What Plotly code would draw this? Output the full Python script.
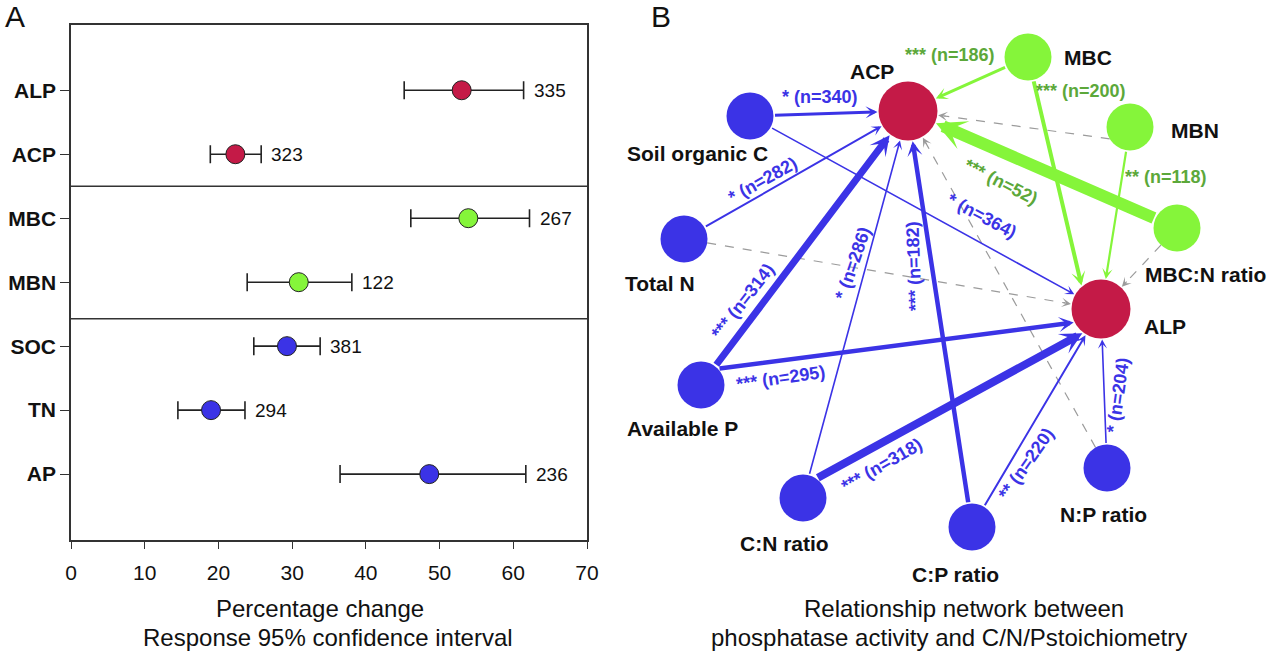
import math
import plotly.graph_objects as go

# ---------------- Panel A data ----------------
vars_a = ["ALP", "ACP", "MBC", "MBN", "SOC", "TN", "AP"]
mean_a = [53.0, 22.3, 53.9, 30.9, 29.3, 19.0, 48.6]
low_a = [45.2, 18.9, 46.1, 23.9, 24.8, 14.5, 36.5]
high_a = [61.4, 25.8, 62.2, 38.1, 33.8, 23.6, 61.7]
n_a = [335, 323, 267, 122, 381, 294, 236]
group_a = ["enz", "enz", "mic", "mic", "soil", "soil", "soil"]
x_ticks_a = [0, 10, 20, 30, 40, 50, 60, 70]

# ---------------- Panel B data ----------------
nodes = ["ACP", "ALP", "MBC", "MBN", "MBC:N ratio", "Soil organic C", "Total N",
         "Available P", "C:N ratio", "C:P ratio", "N:P ratio"]
node_group = ["enz", "enz", "mic", "mic", "mic", "soil", "soil", "soil", "soil", "soil", "soil"]
edge_src = ["Soil organic C", "Soil organic C", "Total N", "Total N", "Available P", "Available P",
            "C:N ratio", "C:N ratio", "C:P ratio", "C:P ratio", "N:P ratio", "N:P ratio",
            "MBC", "MBC", "MBN", "MBN", "MBC:N ratio", "MBC:N ratio"]
edge_tgt = ["ACP", "ALP", "ACP", "ALP", "ACP", "ALP",
            "ACP", "ALP", "ACP", "ALP", "ALP", "ACP",
            "ACP", "ALP", "ACP", "ALP", "ACP", "ALP"]
edge_n = [340, 364, 282, None, 314, 295, 286, 318, 182, 220, 204, None,
          186, 200, None, 118, 52, None]
edge_sig = ["*", "*", "*", "", "***", "***", "*", "***", "***", "**", "*", "",
            "***", "***", "", "**", "***", ""]

# ---------------- styling / layout (not data) ----------------
W, H = 1269, 654
FONT = "Liberation Sans, Arial, sans-serif"
RED = "#C41A47"
GREEN = "#85F53A"
BLUE = "#3B33E6"
GREEN_TXT = "#5CA83A"
GRAY = "#9B9B9B"
col = {"enz": RED, "mic": GREEN, "soil": BLUE}
txtcol = {"enz": BLUE, "mic": GREEN_TXT, "soil": BLUE}

node_pos = {"ACP": (908, 111), "ALP": (1101, 309), "MBC": (1028, 57), "MBN": (1130, 127),
            "MBC:N ratio": (1177, 228), "Soil organic C": (750, 116), "Total N": (684, 239),
            "Available P": (701, 385), "C:N ratio": (803, 498), "C:P ratio": (972, 527),
            "N:P ratio": (1107, 468)}
node_r = {"ACP": 29.5, "ALP": 29.5}
label_pos = {"ACP": (872, 71), "ALP": (1165, 326), "MBC": (1088, 57), "MBN": (1195, 130),
             "MBC:N ratio": (1205, 274), "Soil organic C": (697, 153), "Total N": (660, 283),
             "Available P": (682, 428), "C:N ratio": (784, 543), "C:P ratio": (955, 574),
             "N:P ratio": (1103, 514)}
edge_w = [3, 1.6, 2, 1.2, 7, 4.5, 1.6, 8, 4.5, 2, 1.6, 1.2, 3, 4, 1.2, 2.2, 12, 1.2]
# optional anchor offsets (source, target) for edges not drawn centre-to-centre
edge_off = {5: ((0, -14), (0, 10)), 7: ((0, -12), (0, 14)), 13: ((0, 0), (-14, 0)),
            14: ((-5, 14), (0, 0))}
edge_lab = [(820, 97, 0), (982, 216, 28), (763, 180, -29), None, (743, 301, -52), (781, 378, -8),
            (853, 263, -71), (882, 465, -30), (914, 266, -92), (1026, 464, -55), (1118, 395, -82), None,
            (950, 55, 0), (1081, 91, 0), None, (1166, 177, 0), (1001, 182, 27), None]


def px(x):
    return x / W


def py(y):
    return 1 - y / H


def circle_hits(ax_, ay_, ux, uy, cx, cy, r):
    bx, by = ax_ - cx, ay_ - cy
    b = ux * bx + uy * by
    c = bx * bx + by * by - r * r
    disc = b * b - c
    if disc < 0:
        return None
    s = math.sqrt(disc)
    return (-b - s, -b + s)


fig = go.Figure()

# ---------------- Panel A ----------------
for g in ["enz", "mic", "soil"]:
    idx = [i for i, gg in enumerate(group_a) if gg == g]
    fig.add_trace(go.Scatter(
        x=[mean_a[i] for i in idx], y=[i for i in idx], mode="markers",
        marker=dict(size=19, color=col[g], opacity=1, line=dict(color="#222", width=1)),
        error_x=dict(type="data", symmetric=False,
                     array=[high_a[i] - mean_a[i] for i in idx],
                     arrayminus=[mean_a[i] - low_a[i] for i in idx],
                     color="#222", thickness=1.6, width=9),
        xaxis="x", yaxis="y", showlegend=False, hoverinfo="skip"))

annotations = []
for i, v in enumerate(vars_a):
    annotations.append(dict(x=high_a[i], y=i, xref="x", yref="y", text=str(n_a[i]),
                            showarrow=False, xanchor="left", xshift=8,
                            font=dict(family=FONT, size=19, color="#111")))

shapes = []
for ysep in [1.5, 3.57]:
    shapes.append(dict(type="line", xref="x", yref="y", x0=0, x1=70, y0=ysep, y1=ysep,
                       line=dict(color="#333", width=1.5)))

# ---------------- Panel B ----------------
def rad(nm):
    return node_r.get(nm, 23.5)

for k in range(len(edge_src)):
    s, t = edge_src[k], edge_tgt[k]
    (sox, soy), (tox, toy) = edge_off.get(k, ((0, 0), (0, 0)))
    scx, scy = node_pos[s]
    tcx, tcy = node_pos[t]
    sx, sy = scx + sox, scy + soy
    tx, ty = tcx + tox, tcy + toy
    d = math.hypot(tx - sx, ty - sy)
    ux, uy = (tx - sx) / d, (ty - sy) / d
    hs = circle_hits(sx, sy, ux, uy, scx, scy, rad(s))
    ht = circle_hits(sx, sy, ux, uy, tcx, tcy, rad(t) + 1)
    t0 = hs[1] if hs else 0
    t1 = ht[0] if ht else d
    x0, y0 = sx + ux * t0, sy + uy * t0
    x1, y1 = sx + ux * t1, sy + uy * t1
    if edge_n[k] is None:
        fig.add_trace(go.Scatter(x=[x0, x1 - ux * 6], y=[y0, y1 - uy * 6], mode="lines",
                                 line=dict(color=GRAY, width=edge_w[k], dash="dash"),
                                 xaxis="x2", yaxis="y2", showlegend=False, hoverinfo="skip"))
        annotations.append(dict(x=x1, y=y1, ax=x1 - ux * 9, ay=y1 - uy * 9,
                                xref="x2", yref="y2", axref="x2", ayref="y2", text="",
                                showarrow=True, arrowhead=3, arrowwidth=1.2, arrowsize=1.3,
                                arrowcolor=GRAY))
    else:
        w = edge_w[k]
        annotations.append(dict(x=x1, y=y1, ax=x0, ay=y0,
                                xref="x2", yref="y2", axref="x2", ayref="y2", text="",
                                showarrow=True, arrowhead=3, arrowwidth=w,
                                arrowsize=(6 + 2 * w) / (6 * w),
                                arrowcolor=col[node_group[nodes.index(s)]]))
        lx, ly, ang = edge_lab[k]
        annotations.append(dict(x=lx, y=ly, xref="x2", yref="y2", showarrow=False,
                                text=f"<b>{edge_sig[k]} (n={edge_n[k]})</b>", textangle=ang,
                                font=dict(family=FONT, size=18,
                                          color=txtcol[node_group[nodes.index(s)]]),
                                xanchor="center", yanchor="middle"))

fig.add_trace(go.Scatter(
    x=[node_pos[n][0] for n in nodes], y=[node_pos[n][1] for n in nodes], mode="markers",
    marker=dict(size=[2 * rad(n) for n in nodes], color=[col[g] for g in node_group],
                opacity=1, line=dict(width=0)),
    xaxis="x2", yaxis="y2", showlegend=False, hoverinfo="skip"))

for n in nodes:
    lx, ly = label_pos[n]
    annotations.append(dict(x=lx, y=ly, xref="x2", yref="y2", text=f"<b>{n}</b>",
                            showarrow=False, xanchor="center", yanchor="middle",
                            font=dict(family=FONT, size=21, color="#111")))

# titles / panel letters
for txt, cx, cy in [("Percentage change", 320, 608), ("Response 95% confidence interval", 328, 637),
                    ("Relationship network between", 964, 608),
                    ("phosphatase activity and C/N/Pstoichiometry", 949, 637)]:
    annotations.append(dict(x=px(cx), y=py(cy), xref="paper", yref="paper",
                            xanchor="center", yanchor="middle", text=txt, showarrow=False,
                            font=dict(family=FONT, size=24, color="#111")))
annotations.append(dict(x=px(15), y=py(17), xref="paper", yref="paper", text="A",
                        xanchor="center", yanchor="middle",
                        showarrow=False, font=dict(family=FONT, size=30, color="#111")))
annotations.append(dict(x=px(661), y=py(17), xref="paper", yref="paper", text="B",
                        xanchor="center", yanchor="middle",
                        showarrow=False, font=dict(family=FONT, size=30, color="#111")))

fig.update_layout(
    width=W, height=H, margin=dict(l=0, r=0, t=0, b=0, autoexpand=False),
    paper_bgcolor="white", plot_bgcolor="rgba(0,0,0,0)",
    xaxis=dict(domain=[px(71), px(587)], range=[0, 70], tickvals=x_ticks_a,
               ticks="outside", ticklen=7, tickcolor="#333", showline=True, mirror=True,
               linecolor="#333", linewidth=1.5, showgrid=False, zeroline=False,
               ticklabelstandoff=6,
               tickfont=dict(family=FONT, size=21, color="#111"), anchor="y"),
    yaxis=dict(domain=[py(540), py(25)], range=[7.03, -1.02], tickvals=list(range(len(vars_a))),
               ticktext=[f"<b>{v}</b>" for v in vars_a], ticks="outside", ticklen=9,
               tickcolor="#333", showline=True, mirror=True, linecolor="#333", linewidth=1.5,
               showgrid=False, zeroline=False,
               tickfont=dict(family=FONT, size=21, color="#111"), anchor="x"),
    xaxis2=dict(domain=[px(600), 1], range=[600, W], visible=False, anchor="y2"),
    yaxis2=dict(domain=[0, 1], range=[H, 0], visible=False, anchor="x2"),
    annotations=annotations, shapes=shapes,
)

fig.write_html("out.html", config={"displayModeBar": False},
               post_script="document.body.style.margin='0px';document.body.style.overflow='hidden';")
